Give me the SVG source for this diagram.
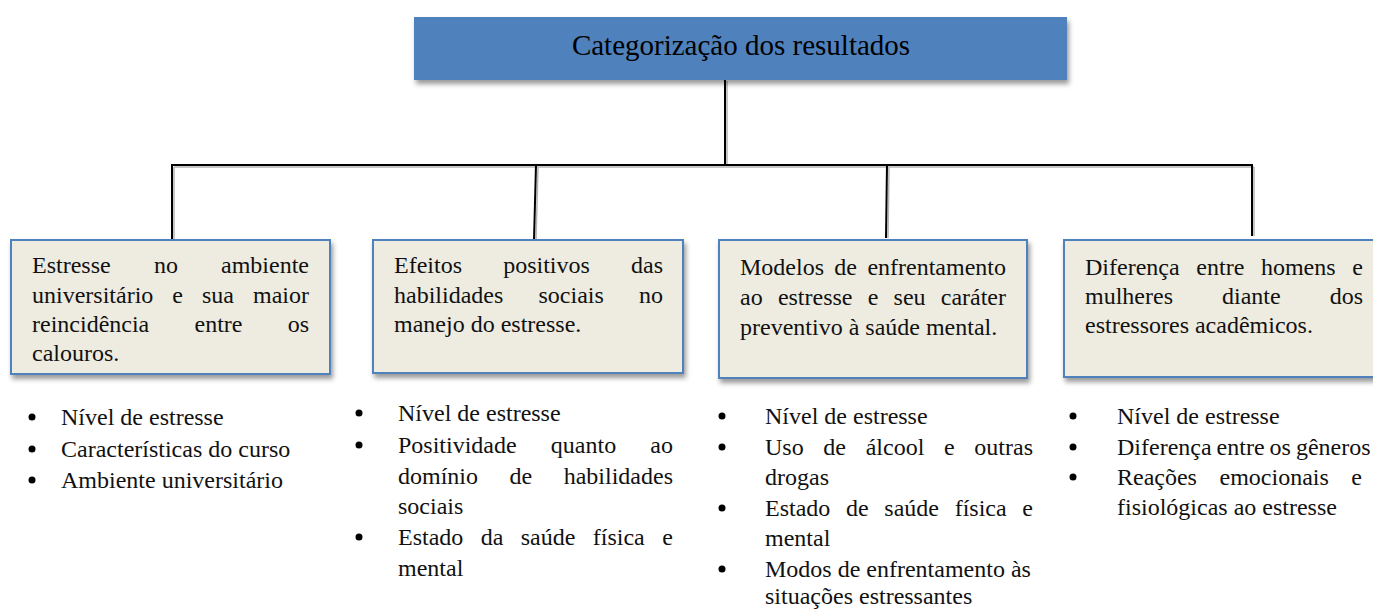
<svg xmlns="http://www.w3.org/2000/svg" width="1373" height="610" viewBox="0 0 1373 610">
<style>
.t{font-family:"Liberation Serif","Times New Roman",serif;font-size:24px;fill:#111}
.title{font-family:"Liberation Serif","Times New Roman",serif;font-size:29px;fill:#000}
.m{text-anchor:middle}
.e{text-anchor:end}
.box{fill:#EEECE1;stroke:#4F81BD;stroke-width:2}
.top{fill:#4F81BD}
.ln{stroke:#000;stroke-width:2;fill:none}
.sh{stroke:#b5b5b5;stroke-width:1.5;fill:none}
.b{fill:#000}
</style>
<defs>
<filter id="ds" x="-10%" y="-20%" width="125%" height="150%">
<feDropShadow dx="2" dy="4" stdDeviation="2.5" flood-color="#000" flood-opacity="0.4"/>
</filter>
</defs>
<rect width="1373" height="610" fill="#fff"/>

<g id="connectors">
<g class="sh">
<line x1="727" y1="81" x2="727" y2="164"/>
<line x1="174" y1="167" x2="1254" y2="167"/>
<line x1="174" y1="167" x2="174" y2="240"/>
<line x1="538" y1="167" x2="536" y2="240"/>
<line x1="889" y1="167" x2="888" y2="238"/>
<line x1="1254" y1="167" x2="1254" y2="236"/>
</g>
<g class="ln">
<line x1="725" y1="80" x2="725" y2="165"/>
<line x1="171" y1="165" x2="1253" y2="165"/>
<line x1="172" y1="165" x2="172" y2="240"/>
<line x1="536" y1="165" x2="534" y2="240"/>
<line x1="887" y1="165" x2="886" y2="238"/>
<line x1="1252" y1="165" x2="1252" y2="236"/>
</g>
</g>

<g id="root">
<rect class="top" x="414" y="17" width="653" height="63" filter="url(#ds)"/>
<text class="title m" x="741" y="55">Categorização dos resultados</text>
</g>

<g id="cat1">
<rect class="box" x="11" y="240" width="319" height="134" filter="url(#ds)"/>
<text class="t" y="273"><tspan x="32">Estresse</tspan><tspan class="m" x="166">no</tspan><tspan class="e" x="309">ambiente</tspan></text>
<text class="t" y="303"><tspan x="32">universitário</tspan><tspan class="m" x="177.6">e</tspan><tspan class="m" x="218">sua</tspan><tspan class="e" x="309">maior</tspan></text>
<text class="t" y="332"><tspan x="32">reincidência</tspan><tspan class="m" x="218.5">entre</tspan><tspan class="e" x="309">os</tspan></text>
<text class="t" x="32" y="361">calouros.</text>
</g>

<g id="cat2">
<rect class="box" x="373" y="240" width="310" height="133" filter="url(#ds)"/>
<text class="t" y="273"><tspan x="394">Efeitos</tspan><tspan class="m" x="546.5">positivos</tspan><tspan class="e" x="663">das</tspan></text>
<text class="t" y="303"><tspan x="394">habilidades</tspan><tspan class="m" x="571.2">sociais</tspan><tspan class="e" x="663">no</tspan></text>
<text class="t" x="394" y="332">manejo do estresse.</text>
</g>

<g id="cat3">
<rect class="box" x="719" y="240" width="308" height="138" filter="url(#ds)"/>
<text class="t" y="275"><tspan x="740">Modelos</tspan><tspan class="m" x="845.7">de</tspan><tspan class="e" x="1006">enfrentamento</tspan></text>
<text class="t" y="305"><tspan x="740">ao</tspan><tspan class="m" x="815.2">estresse</tspan><tspan class="m" x="873">e</tspan><tspan class="m" x="909.6">seu</tspan><tspan class="e" x="1006">caráter</tspan></text>
<text class="t" x="740" y="335">preventivo à saúde mental.</text>
</g>

<g id="cat4">
<rect class="box" x="1064" y="240" width="320" height="137" filter="url(#ds)"/>
<text class="t" y="275"><tspan x="1085">Diferença</tspan><tspan class="m" x="1220.3">entre</tspan><tspan class="m" x="1298.3">homens</tspan><tspan class="e" x="1363">e</tspan></text>
<text class="t" y="304"><tspan x="1085">mulheres</tspan><tspan class="m" x="1251.3">diante</tspan><tspan class="e" x="1363">dos</tspan></text>
<text class="t" x="1085" y="333">estressores acadêmicos.</text>
</g>

<g id="list1">
<circle class="b" cx="32" cy="417" r="3.5"/>
<circle class="b" cx="32" cy="449" r="3.5"/>
<circle class="b" cx="32" cy="480" r="3.5"/>
<text class="t" x="61" y="425">Nível de estresse</text>
<text class="t" x="61" y="457">Características do curso</text>
<text class="t" x="61" y="488">Ambiente universitário</text>
</g>

<g id="list2">
<circle class="b" cx="359" cy="413" r="3.5"/>
<circle class="b" cx="359" cy="445" r="3.5"/>
<circle class="b" cx="359" cy="537" r="3.5"/>
<text class="t" x="398" y="421">Nível de estresse</text>
<text class="t" y="453"><tspan x="398">Positividade</tspan><tspan class="m" x="583.5">quanto</tspan><tspan class="e" x="673">ao</tspan></text>
<text class="t" y="484"><tspan x="398">domínio</tspan><tspan class="m" x="520.8">de</tspan><tspan class="e" x="673">habilidades</tspan></text>
<text class="t" x="398" y="514">sociais</text>
<text class="t" y="545"><tspan x="398">Estado</tspan><tspan class="m" x="492">da</tspan><tspan class="m" x="548.1">saúde</tspan><tspan class="m" x="618.8">física</tspan><tspan class="e" x="673">e</tspan></text>
<text class="t" x="398" y="576">mental</text>
</g>

<g id="list3">
<circle class="b" cx="722" cy="416" r="3.5"/>
<circle class="b" cx="722" cy="447" r="3.5"/>
<circle class="b" cx="722" cy="508" r="3.5"/>
<circle class="b" cx="722" cy="569" r="3.5"/>
<text class="t" x="765" y="424">Nível de estresse</text>
<text class="t" y="455"><tspan x="765">Uso</tspan><tspan class="m" x="834.6">de</tspan><tspan class="m" x="895">álcool</tspan><tspan class="m" x="949.3">e</tspan><tspan class="e" x="1033">outras</tspan></text>
<text class="t" x="765" y="485">drogas</text>
<text class="t" y="516"><tspan x="765">Estado</tspan><tspan class="m" x="857.4">de</tspan><tspan class="m" x="911.7">saúde</tspan><tspan class="m" x="980.7">física</tspan><tspan class="e" x="1033">e</tspan></text>
<text class="t" x="765" y="546">mental</text>
<text class="t" x="765" y="577">Modos de enfrentamento às</text>
<text class="t" x="765" y="604">situações estressantes</text>
</g>

<g id="list4">
<circle class="b" cx="1073" cy="416" r="3.5"/>
<circle class="b" cx="1073" cy="447" r="3.5"/>
<circle class="b" cx="1073" cy="477" r="3.5"/>
<text class="t" x="1117" y="424">Nível de estresse</text>
<text class="t" x="1117" y="455" word-spacing="-1">Diferença entre os gêneros</text>
<text class="t" y="485"><tspan x="1117">Reações</tspan><tspan class="m" x="1274.2">emocionais</tspan><tspan class="e" x="1362">e</tspan></text>
<text class="t" x="1117" y="515">fisiológicas ao estresse</text>
</g>
</svg>
